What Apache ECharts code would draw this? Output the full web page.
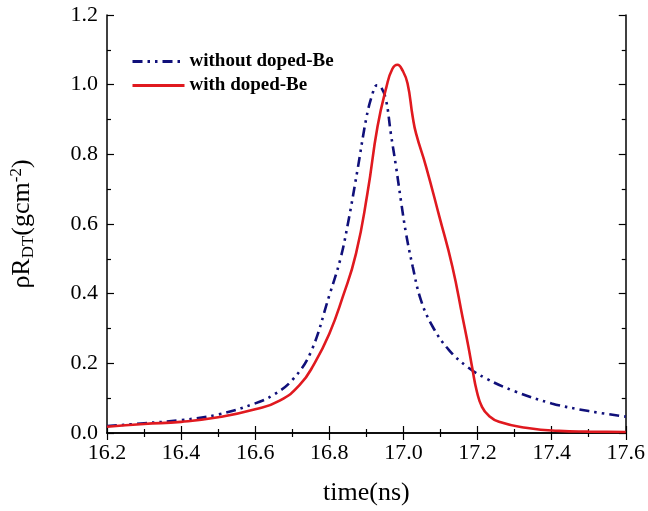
<!DOCTYPE html>
<html><head><meta charset="utf-8">
<script src="https://cdn.jsdelivr.net/npm/echarts@6/dist/echarts.min.js"></script>
<style>html,body{margin:0;padding:0;background:#fff}#c{width:648px;height:511px}</style>
</head><body><div id="c"></div>
<script>
var seriesNames = ['without doped-Be', 'with doped-Be'];
var xTicks = [16.2, 16.4, 16.6, 16.8, 17.0, 17.2, 17.4, 17.6];
var yTicks = [0.0, 0.2, 0.4, 0.6, 0.8, 1.0, 1.2];
var blueX = [16.2,16.3,16.4,16.5,16.6,16.65,16.7,16.75,16.8,16.83,16.85,16.876,16.9,16.915,16.928,16.939,16.953,16.966,16.98,16.993,17.007,17.025,17.047,17.079,17.123,17.17,17.222,17.3,17.4,17.5,17.6];
var blueY = [0.020,0.028,0.037,0.053,0.085,0.110,0.152,0.232,0.395,0.50,0.60,0.755,0.905,0.968,0.998,0.994,0.956,0.86,0.765,0.669,0.573,0.478,0.382,0.305,0.238,0.192,0.157,0.120,0.085,0.063,0.047];
var redX = [16.2,16.3,16.4,16.5,16.6,16.666,16.72,16.76,16.8,16.836,16.872,16.903,16.93,16.954,16.97,16.984,16.998,17.011,17.025,17.034,17.061,17.097,17.132,17.16,17.175,17.186,17.198,17.212,17.23,17.258,17.33,17.42,17.5,17.6];
var redY = [0.018,0.026,0.032,0.045,0.068,0.093,0.138,0.20,0.285,0.39,0.515,0.689,0.879,0.993,1.045,1.057,1.04,1.004,0.908,0.86,0.765,0.621,0.478,0.33,0.25,0.185,0.12,0.075,0.05,0.032,0.015,0.006,0.004,0.003];

function pairs(xs, ys){ return xs.map(function(x,i){return [x, ys[i]];}); }
var serif = 'Liberation Serif';
var chart = echarts.init(document.getElementById('c'), null, {renderer:'canvas'});
function tickAxis(extra){
  var base = {
    axisLine: {lineStyle: {color: '#000', width: 1.5}},
    axisTick: {inside: true, length: 7, lineStyle: {color: '#000', width: 1.2}},
    minorTick: {show: true, splitNumber: 2, length: 4, lineStyle: {color: '#000', width: 1.2}},
    splitLine: {show: false}
  };
  for (var k in extra) base[k] = extra[k];
  return base;
}
var labelStyle = {fontFamily: serif, fontSize: 22, color: '#000', margin: 9, formatter: function(v){return v.toFixed(1);}};
chart.setOption({
  animation: false,
  backgroundColor: '#fff',
  grid: {left: 107, right: 21, top: 15, bottom: 78},
  legend: {
    orient: 'vertical', left: 126, top: 47, itemWidth: 52, itemHeight: 14, itemGap: 5,
    itemStyle: {opacity: 0},
    lineStyle: {width: 3},
    textStyle: {fontFamily: serif, fontWeight: 'bold', fontSize: 19, color: '#000'},
    data: seriesNames
  },
  xAxis: [tickAxis({
    type: 'value', min: xTicks[0], max: xTicks[xTicks.length-1], interval: 0.2,
    name: 'time(ns)', nameLocation: 'middle', nameGap: 47,
    nameTextStyle: {fontFamily: serif, fontSize: 26, color: '#000'},
    axisLabel: labelStyle
  }), tickAxis({
    type: 'value', position: 'top', min: xTicks[0], max: xTicks[xTicks.length-1], interval: 0.2,
    axisLabel: {show: false}
  })],
  yAxis: [tickAxis({
    type: 'value', min: yTicks[0], max: yTicks[yTicks.length-1], interval: 0.2,
    name: 'ρR{sub|DT}(gcm{sup|-2})', nameLocation: 'middle', nameGap: 70, nameRotate: 90,
    nameTextStyle: {fontFamily: serif, fontSize: 26, color: '#000',
      rich: {sub: {fontFamily: serif, fontSize: 17, color: '#000', verticalAlign: 'bottom', padding: [12,0,0,0]},
             sup: {fontFamily: serif, fontSize: 17, color: '#000', verticalAlign: 'top', padding: [0,0,12,0]}}},
    axisLabel: labelStyle
  }), tickAxis({
    type: 'value', position: 'right', min: yTicks[0], max: yTicks[yTicks.length-1], interval: 0.2,
    axisLabel: {show: false}
  })],
  series: [{
    name: seriesNames[0], type: 'line', showSymbol: false, symbol: 'none', smooth: 0.4,
    data: pairs(blueX, blueY),
    lineStyle: {color: '#10107a', width: 2.6, type: [10,5,2.5,5,2.5,5]},
    itemStyle: {color: '#10107a'}
  }, {
    name: seriesNames[1], type: 'line', showSymbol: false, symbol: 'none', smooth: 0.5,
    data: pairs(redX, redY),
    lineStyle: {color: '#e0191f', width: 2.6},
    itemStyle: {color: '#e0191f'}
  }]
});
</script></body></html>
